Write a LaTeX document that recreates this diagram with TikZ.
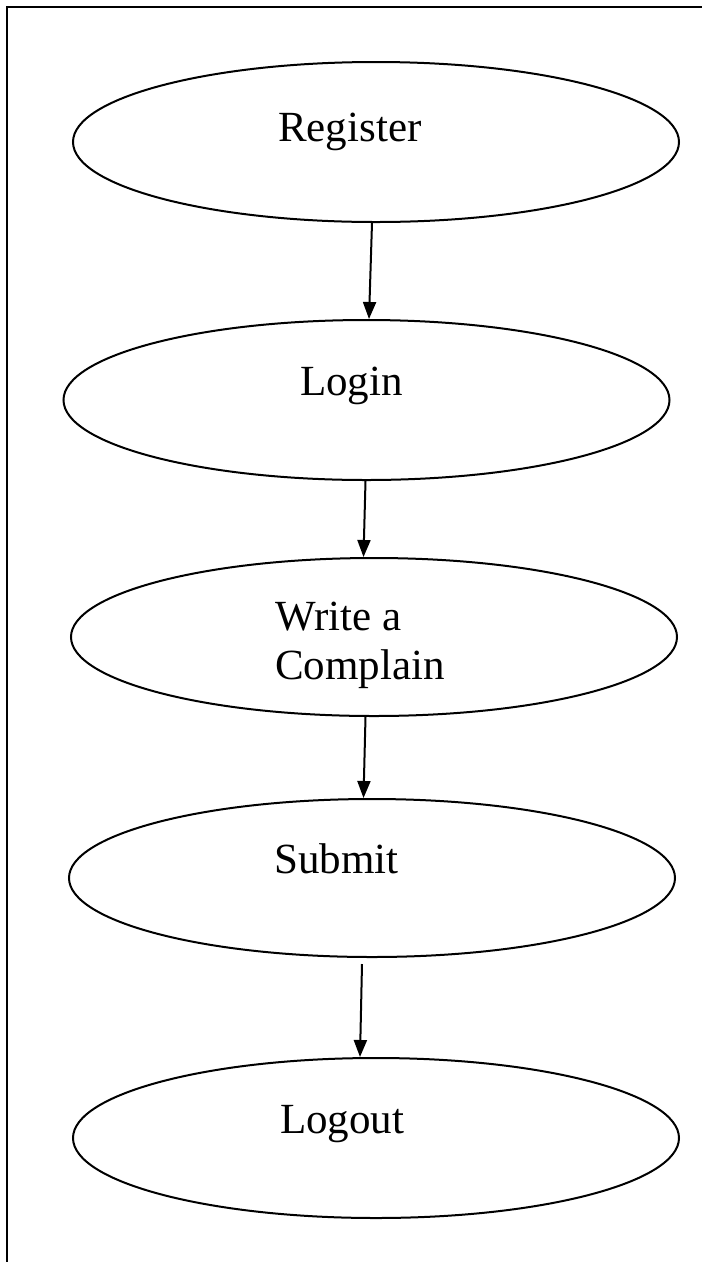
\documentclass[tikz,border=0pt]{standalone}
\usepackage{fontspec}
\setmainfont{Liberation Serif}
\usetikzlibrary{shapes.geometric,arrows.meta}
\begin{document}
\begin{tikzpicture}[x=1pt,y=-1pt,
  usecase/.style={draw=black,line width=2pt,ellipse,inner sep=0pt,
    minimum width=606pt,minimum height=#1},
  usecase/.default=160pt,
  caption/.style={anchor=base west,inner sep=0pt,
    font=\fontsize{43}{49}\selectfont},
  flow/.style={line width=2pt,-{Triangle[length=17pt,width=13pt]}}]
\useasboundingbox (0,0) rectangle (702,1262);
% page frame (top and left rules)
\draw[line width=2.2pt] (702,7) -- (7,7) -- (7,1262);

% activities
\node[usecase] (reg)    at (376,142)   {};
\node[usecase] (login)  at (366.5,400) {};
\node[usecase=158pt] (write)  at (374,637)   {};
\node[usecase=158pt] (submit) at (372,878)   {};
\node[usecase] (logout) at (376,1138)  {};

% labels
\node[caption] (treg)    at (278,141)  {Register};
\node[caption] (tlogin)  at (300,395)  {Login};
\node[caption] (twrite)  at (275,630)  {Write a};
\node[caption] (tcompl)  at (275,679)  {Complain};
\node[caption] (tsubmit) at (274,873) {Submit};
\node[caption] (tlogout) at (280,1133) {Logout};

% flow
\draw[flow] ([xshift=-4pt]reg.south)    -- ([xshift=2.5pt]login.north);
\draw[flow] ([xshift=-1pt]login.south)  -- ([xshift=-10.5pt]write.north);
\draw[flow] ([xshift=-8.5pt]write.south) -- ([xshift=-8.5pt]submit.north);
\draw[flow] ([xshift=-10pt,yshift=-6pt]submit.south) -- ([xshift=-16pt]logout.north);
\end{tikzpicture}
\end{document}
